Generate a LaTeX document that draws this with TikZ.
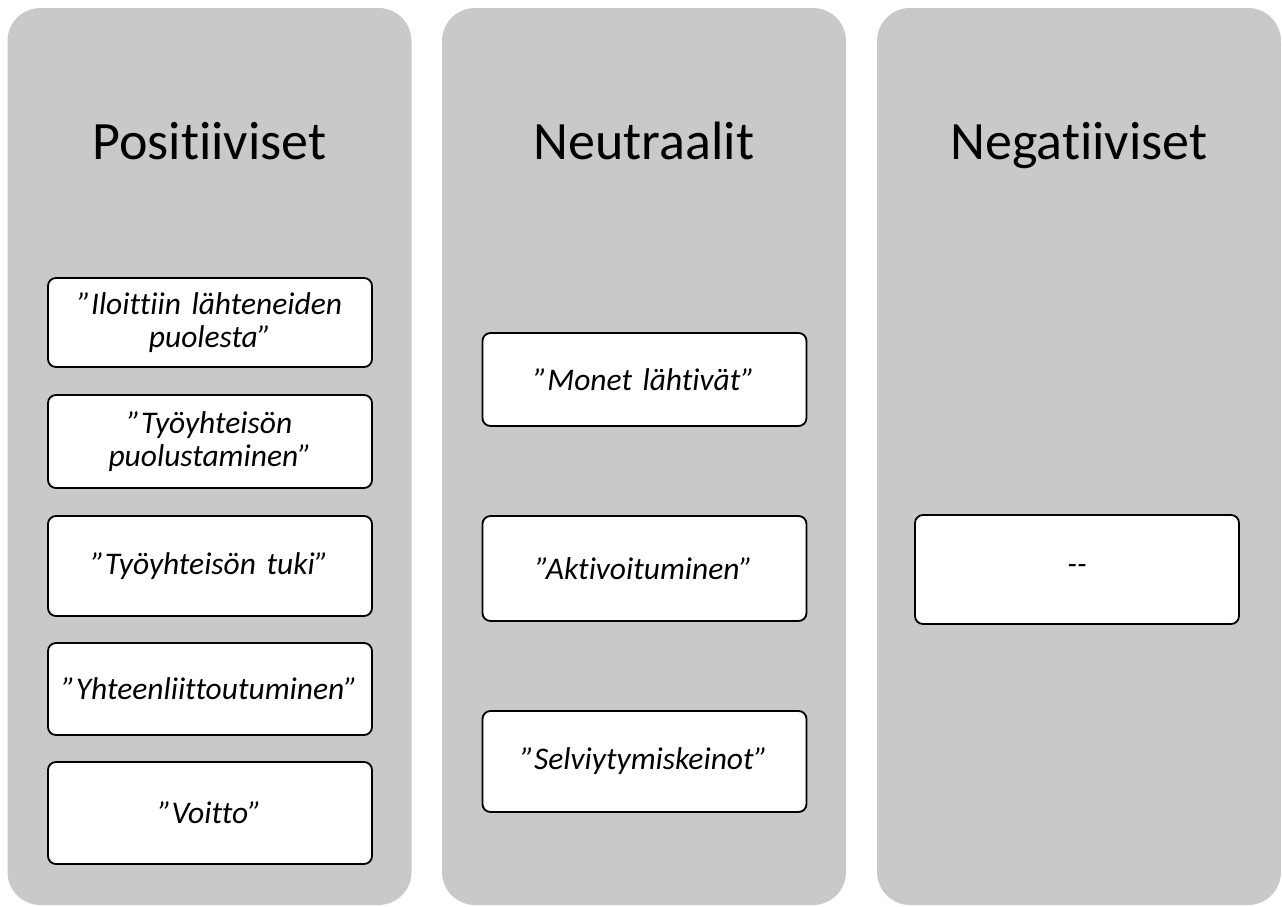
\documentclass[tikz,border=0pt]{standalone}
\usepackage{fontspec}
\setmainfont{Carlito}[Ligatures={NoCommon,NoContextual}, Contextuals=NoAlternate]
\definecolor{colgray}{RGB}{201,201,201}
\begin{document}
\begin{tikzpicture}[x=1pt,y=-1pt,
  column/.style={fill=colgray, draw=none, rounded corners=33pt, inner sep=0pt,
    minimum width=404pt, minimum height=897pt},
  heading/.style={anchor=base, inner sep=0pt, font=\fontsize{54}{60}\selectfont},
  item/.style={draw=black, fill=white, line width=1.8pt, rounded corners=8pt,
    inner sep=0pt, minimum width=324pt, align=center, text width=316pt,
    font=\fontsize{31.5}{33.5}\selectfont\itshape}]
\useasboundingbox (0,0) rectangle (1282,906);

% three columns
\node[column] (c1) at (209.5,456.5) {};
\node[column] (c2) at (644,456.5) {};
\node[column] (c3) at (1079,456.5) {};

% column headings
\node[heading] (h1) at (209.5,159) {Positiiviset};
\node[heading] (h2) at (644,159) {Neutraalit};
\node[heading] (h3) at (1079,159) {Negatiiviset};

% positive items
\node[item, minimum height=89pt]  (p1) at (210,322.5) {”Iloittiin lähteneiden\\puolesta”};
\node[item, minimum height=93pt]  (p2) at (210,441.5) {”Työyhteisön\\puolustaminen”};
\node[item, minimum height=100pt] (p3) at (210,566) {”Työyhteisön tuki”};
\node[item, minimum height=92pt]  (p4) at (210,689) {”Yhteenliittoutuminen”};
\node[item, minimum height=102pt] (p5) at (210,813) {\symbol{34}Voitto\symbol{34}};

% neutral items
\node[item, minimum height=93pt]  (n1) at (644.5,379.5) {”Monet lähtivät”};
\node[item, minimum height=105pt] (n2) at (644.5,568.5) {”Aktivoituminen”};
\node[item, minimum height=101pt] (n3) at (644.5,761.5) {”Selviytymiskeinot”};

% negative items
\node[item, minimum height=109pt] (g1) at (1077,569.5) {{-}{-}};
\end{tikzpicture}
\end{document}
